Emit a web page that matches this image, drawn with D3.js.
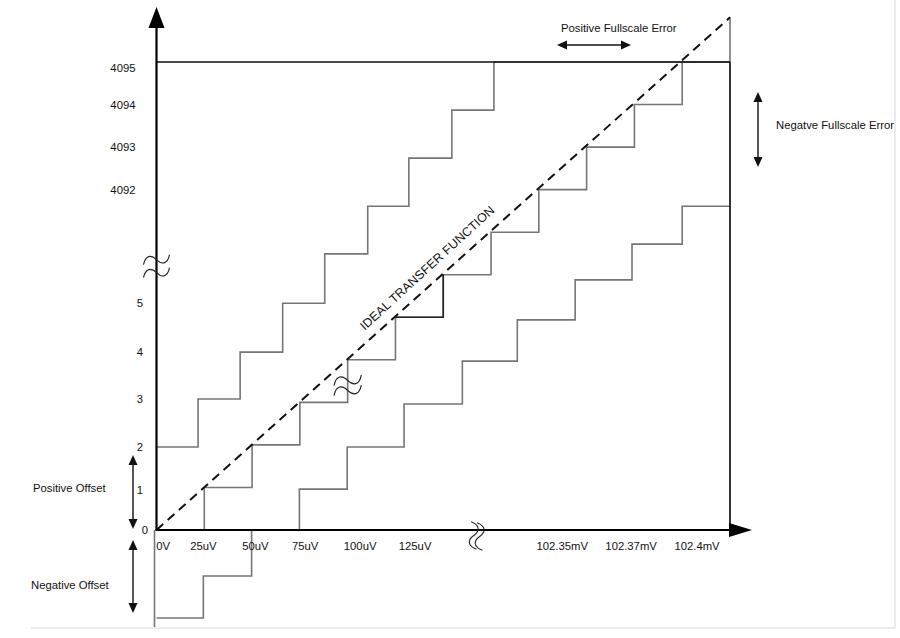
<!DOCTYPE html>
<html><head><meta charset="utf-8">
<script src="https://cdn.jsdelivr.net/npm/d3@7"></script>
<style>
body{margin:0;background:#fff}
svg{display:block;font-family:"Liberation Sans",Arial,Helvetica,sans-serif}
</style>
</head><body>
<svg id="chart" width="900" height="638"></svg>
<script>
// ---------- data (x in LSB steps, y in output code steps) ----------
const xTickLabels = ["0V","25uV","50uV","75uV","100uV","125uV","102.35mV","102.37mV","102.4mV"];
const xTickPos    = [0.13, 0.97, 2.06, 3.10, 4.25, 5.40, 8.48, 9.92, 11.30];
const yLowLabels  = ["0","1","2","3","4","5"];
const yLowPos     = [0, 0.94, 1.95, 3.08, 4.18, 5.33];
const yHighLabels = ["4092","4093","4094","4095"];
const yHighPos    = [7.99, 9.0, 9.99, 10.86];

// ideal staircase
const idealX      = [0,1,2,3,4,5,6,7,8,9,10,11,12];
const idealLevel  = [0,1,2,3,4,5,6,7,8,9,10,11,12.05];
// positive offset / positive fullscale error staircase
const posX        = [0,0.87,1.75,2.64,3.52,4.42,5.28,6.18,7.06,12];
const posLevel    = [1.95,3.08,4.18,5.33,6.49,7.61,8.74,9.87,11,11];
// negative offset / negative fullscale error staircase
const negX        = [0,0.98,1.99,2.99,3.99,5.18,6.40,7.55,8.76,9.95,11.0,12];
const negLevel    = [-2.07,-1.08,0,0.96,1.95,2.96,3.97,4.94,5.88,6.72,7.61,7.61];
// ideal transfer function line
const idealLineX  = [0,12];
const idealLineY  = [0,12.05];

// ---------- drawing ----------
const svg = d3.select("#chart");
const x = d3.scaleLinear().domain([0,12]).range([156.5,730]);
const y = d3.scaleLinear().domain([0,11]).range([530,62]);
const x0 = x(0), y0 = y(0);
const GREY = "#767676";
const FS = "11.3px";

// faint picture border
svg.append("line").attr("x1",895).attr("x2",895).attr("y1",0).attr("y2",628)
  .attr("stroke","#e4e4e4").attr("stroke-width",1.5);
svg.append("line").attr("x1",31).attr("x2",895).attr("y1",628).attr("y2",628)
  .attr("stroke","#e4e4e4").attr("stroke-width",1.5);

const step = d3.line().x(d=>x(d[0])).y(d=>y(d[1])).curve(d3.curveStepAfter);
function stairs(xs, ls){ return xs.map((v,i)=>[v, ls[i]]); }

// below-axis part of the vertical (start of negative staircase)
svg.append("line").attr("x1",x0-2).attr("x2",x0-2).attr("y1",y0).attr("y2",y(-2.28))
  .attr("stroke",GREY).attr("stroke-width",1.6);

// staircases
svg.append("path").attr("d", step(stairs(negX,negLevel)))
  .attr("fill","none").attr("stroke",GREY).attr("stroke-width",1.6);
svg.append("path").attr("d", step(stairs(posX,posLevel)))
  .attr("fill","none").attr("stroke",GREY).attr("stroke-width",1.6);
svg.append("path").attr("d", step(stairs(idealX,idealLevel)))
  .attr("fill","none").attr("stroke",GREY).attr("stroke-width",1.6);
// darker step on the ideal staircase
svg.append("path").attr("d", step(stairs(idealX.slice(5,7),idealLevel.slice(5,7))))
  .attr("fill","none").attr("stroke","#222").attr("stroke-width",1.6);

// full-scale frame
svg.append("line").attr("x1",x0).attr("x2",x(12)).attr("y1",y(11)).attr("y2",y(11))
  .attr("stroke","#111").attr("stroke-width",1.7);
svg.append("line").attr("x1",x(12)).attr("x2",x(12)).attr("y1",y(11)).attr("y2",y0)
  .attr("stroke","#111").attr("stroke-width",1.7);

// ideal dashed line
svg.append("line")
  .attr("x1",x(idealLineX[0])).attr("y1",y(idealLineY[0]))
  .attr("x2",x(idealLineX[1])).attr("y2",y(idealLineY[1]))
  .attr("stroke","#111").attr("stroke-width",2).attr("stroke-dasharray","9,6");

// axes lines + arrows
svg.append("line").attr("x1",x0).attr("x2",x0).attr("y1",y0).attr("y2",26)
  .attr("stroke","#000").attr("stroke-width",2.2);
svg.append("path").attr("d",`M${x0},7 L${x0-8},28 L${x0+8},28 Z`).attr("fill","#000");
svg.append("line").attr("x1",x0-1).attr("x2",731).attr("y1",y0).attr("y2",y0)
  .attr("stroke","#000").attr("stroke-width",2.2);
svg.append("path").attr("d",`M752,${y0} L729,${y0-7} L729,${y0+7} Z`).attr("fill","#000");

// tick labels through d3 axes
function styleAxis(g){
  g.select(".domain").remove();
  g.selectAll("text").attr("font-size",FS).attr("fill","#111")
    .attr("font-family",'"Liberation Sans",Arial,sans-serif');
}
svg.append("g").attr("transform",`translate(0,${y0})`)
  .call(d3.axisBottom(x).tickValues(xTickPos).tickSize(0).tickPadding(12)
        .tickFormat((d,i)=>xTickLabels[i]))
  .call(styleAxis);
svg.append("g").attr("transform",`translate(${x0},0)`)
  .call(d3.axisLeft(y).tickValues(yLowPos).tickSize(0).tickPadding(13.5)
        .tickFormat((d,i)=>yLowLabels[i]))
  .call(styleAxis)
  .selectAll("text").attr("x",(d)=> d===0 ? -8.5 : -13.5);
svg.append("g").attr("transform",`translate(${x0},0)`)
  .call(d3.axisLeft(y).tickValues(yHighPos).tickSize(0).tickPadding(21)
        .tickFormat((d,i)=>yHighLabels[i]))
  .call(styleAxis);

// annotation texts
function label(t,xx,yy){
  svg.append("text").attr("x",xx).attr("y",yy).attr("font-size",FS)
    .attr("fill","#111").text(t);
}
label("Positive Fullscale Error",561,32);
label("Negatve Fullscale Error",776,129);
label("Positive Offset",33,492);
label("Negative Offset",31,589);

// ideal transfer function label
svg.append("text").attr("transform","translate(430,271) rotate(-42.5)")
  .attr("text-anchor","middle").attr("font-size","12.3px").attr("fill","#111")
  .attr("textLength",177).attr("lengthAdjust","spacingAndGlyphs")
  .text("IDEAL TRANSFER FUNCTION");

// double arrows
function dblArrow(x1,y1,x2,y2){
  const ang = Math.atan2(y2-y1,x2-x1), L=10, W=4.5;
  const g = svg.append("g");
  const ux=Math.cos(ang), uy=Math.sin(ang);
  g.append("line").attr("x1",x1+ux*L*0.8).attr("y1",y1+uy*L*0.8)
    .attr("x2",x2-ux*L*0.8).attr("y2",y2-uy*L*0.8)
    .attr("stroke","#111").attr("stroke-width",1.4);
  const head=(px,py,dx,dy)=>`M${px},${py} L${px-dx*L-dy*W},${py-dy*L+dx*W} L${px-dx*L+dy*W},${py-dy*L-dx*W} Z`;
  g.append("path").attr("d",head(x2,y2,ux,uy)).attr("fill","#111");
  g.append("path").attr("d",head(x1,y1,-ux,-uy)).attr("fill","#111");
}
dblArrow(557,45,631,45);
dblArrow(758,92,758,167);
dblArrow(133,455,133,529);
dblArrow(133,540,133,613);

// break marks
const tilde = "M-13,5 C-11,-5 -5,-5 0,0 C5,5 11,5 13,-5";
function breakMark(cx,cy,rot,gap,scale){
  [0,1].forEach(k=>{
    svg.append("path").attr("d",tilde)
      .attr("transform",`translate(${cx},${cy}) rotate(${rot}) translate(0,${k*gap-gap/2}) scale(${scale})`)
      .attr("fill","none").attr("stroke","#222").attr("stroke-width",1.1);
  });
}
breakMark(x0,y(6.2),0,13,1);
breakMark(x(4.0),y(3.4),0,10,1.05);
breakMark(x(6.7),y0+6,-80,6,1);
</script>
</body></html>
